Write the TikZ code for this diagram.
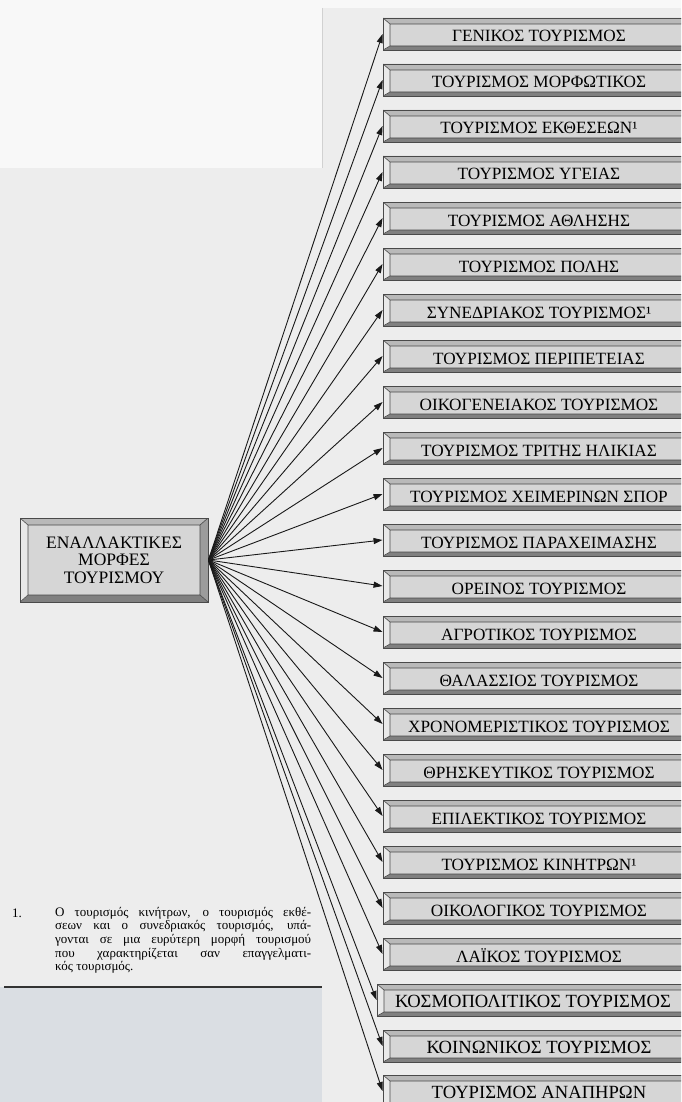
\documentclass[tikz,border=0pt]{standalone}
\usepackage{fontspec}
\setmainfont{Liberation Serif}
\usetikzlibrary{calc,arrows.meta}
\definecolor{pagebg}{HTML}{EDEDED}
\definecolor{panelbg}{HTML}{F8F8F8}
\definecolor{photobg}{HTML}{DADEE3}
\definecolor{boxface}{HTML}{D6D6D6}
\definecolor{boxline}{HTML}{4A4A4A}
\definecolor{bvTc}{HTML}{B9B9B9}
\definecolor{bvRc}{HTML}{9C9C9C}
\definecolor{bvBc}{HTML}{808080}
\definecolor{bvLc}{HTML}{E9E9E9}
\tikzset{
  bevelbox/.style n args={4}{draw=boxline, line width=0.9pt, fill=boxface,
    path picture={
      \coordinate (pA) at (path picture bounding box.north west);
      \coordinate (pC) at (path picture bounding box.south east);
      \coordinate (pB) at (pC |- pA);
      \coordinate (pD) at (pA |- pC);
      \coordinate (qA) at ($(pA)+(#1,#2)$);
      \coordinate (qB) at ($(pB)+(-#3,#2)$);
      \coordinate (qC) at ($(pC)+(-#3,-#4)$);
      \coordinate (qD) at ($(pD)+(#1,-#4)$);
      \fill[bvTc] (pA)--(pB)--(qB)--(qA)--cycle;
      \fill[bvRc] (pB)--(pC)--(qC)--(qB)--cycle;
      \fill[bvBc] (pC)--(pD)--(qD)--(qC)--cycle;
      \fill[bvLc] (pD)--(pA)--(qA)--(qD)--cycle;
      \draw[boxline, line width=0.6pt] (qA) rectangle (qC)
        (pA)--(qA) (pB)--(qB) (pC)--(qC) (pD)--(qD);
    }},
  rbox/.style={bevelbox={7}{6}{6}{4}, minimum width=312pt, minimum height=32pt,
    inner sep=0pt, text height=16pt, text depth=0pt,
    font=\fontsize{17.2}{17.2}\selectfont},
  rboxbig/.style={rbox, font=\fontsize{18.6}{18.6}\selectfont, text height=15pt},
  lbox/.style={bevelbox={8}{7}{8}{7}, minimum width=188pt, minimum height=84pt,
    inner sep=0pt, align=center, font=\fontsize{17.5}{17.5}\selectfont},
  arr/.style={draw=black!90, line width=0.9pt, -{Triangle[length=9pt,width=6pt]}},
  fntext/.style={inner sep=0pt, text=black, font=\rmfamily\fontsize{13}{13.6}\selectfont}
}
\begin{document}
\begin{tikzpicture}[x=1pt,y=-1pt]
\useasboundingbox (0,0) rectangle (681,1102);
\clip (0,0) rectangle (681,1102);
% page background
\fill[pagebg] (0,0) rectangle (681,1102);
\fill[panelbg] (0,0) rectangle (322,168);
\fill[panelbg] (0,0) rectangle (681,8);
\draw[black!18, line width=0.8pt] (322,8) -- (322,168);
\fill[photobg] (0,987) rectangle (322,1102);
\draw[black!80, line width=1.4pt] (4,987) -- (322,987);

% central box
\node[lbox] (L) at (114,560) {ΕΝΑΛΛΑΚΤΙΚΕΣ\\ΜΟΡΦΕΣ\\ΤΟΥΡΙΣΜΟΥ};

% right boxes
\node[rbox] (b1)  at (539,34)   {ΓΕΝΙΚΟΣ ΤΟΥΡΙΣΜΟΣ};
\node[rbox] (b2)  at (539,80)   {ΤΟΥΡΙΣΜΟΣ ΜΟΡΦΩΤΙΚΟΣ};
\node[rbox] (b3)  at (539,126)  {ΤΟΥΡΙΣΜΟΣ ΕΚΘΕΣΕΩΝ¹};
\node[rbox] (b4)  at (539,172)  {ΤΟΥΡΙΣΜΟΣ ΥΓΕΙΑΣ};
\node[rbox] (b5)  at (539,218)  {ΤΟΥΡΙΣΜΟΣ ΑΘΛΗΣΗΣ};
\node[rbox] (b6)  at (539,264)  {ΤΟΥΡΙΣΜΟΣ ΠΟΛΗΣ};
\node[rbox] (b7)  at (539,310)  {ΣΥΝΕΔΡΙΑΚΟΣ ΤΟΥΡΙΣΜΟΣ¹};
\node[rbox] (b8)  at (539,356)  {ΤΟΥΡΙΣΜΟΣ ΠΕΡΙΠΕΤΕΙΑΣ};
\node[rbox] (b9)  at (539,402)  {ΟΙΚΟΓΕΝΕΙΑΚΟΣ ΤΟΥΡΙΣΜΟΣ};
\node[rbox] (b10) at (539,448)  {ΤΟΥΡΙΣΜΟΣ ΤΡΙΤΗΣ ΗΛΙΚΙΑΣ};
\node[rbox] (b11) at (539,494)  {ΤΟΥΡΙΣΜΟΣ ΧΕΙΜΕΡΙΝΩΝ ΣΠΟΡ};
\node[rbox] (b12) at (539,540)  {ΤΟΥΡΙΣΜΟΣ ΠΑΡΑΧΕΙΜΑΣΗΣ};
\node[rbox] (b13) at (539,586)  {ΟΡΕΙΝΟΣ ΤΟΥΡΙΣΜΟΣ};
\node[rbox] (b14) at (539,632)  {ΑΓΡΟΤΙΚΟΣ ΤΟΥΡΙΣΜΟΣ};
\node[rbox] (b15) at (539,678)  {ΘΑΛΑΣΣΙΟΣ ΤΟΥΡΙΣΜΟΣ};
\node[rbox] (b16) at (539,724)  {ΧΡΟΝΟΜΕΡΙΣΤΙΚΟΣ ΤΟΥΡΙΣΜΟΣ};
\node[rbox] (b17) at (539,770)  {ΘΡΗΣΚΕΥΤΙΚΟΣ ΤΟΥΡΙΣΜΟΣ};
\node[rbox] (b18) at (539,816)  {ΕΠΙΛΕΚΤΙΚΟΣ ΤΟΥΡΙΣΜΟΣ};
\node[rbox] (b19) at (539,862)  {ΤΟΥΡΙΣΜΟΣ ΚΙΝΗΤΡΩΝ¹};
\node[rbox] (b20) at (539,908)  {ΟΙΚΟΛΟΓΙΚΟΣ ΤΟΥΡΙΣΜΟΣ};
\node[rbox] (b21) at (539,954)  {ΛΑΪΚΟΣ ΤΟΥΡΙΣΜΟΣ};
\node[rboxbig] (b22) at (533,1000) {ΚΟΣΜΟΠΟΛΙΤΙΚΟΣ ΤΟΥΡΙΣΜΟΣ};
\node[rboxbig] (b23) at (539,1046) {ΚΟΙΝΩΝΙΚΟΣ ΤΟΥΡΙΣΜΟΣ};
\node[rboxbig] (b24) at (539,1091) {ΤΟΥΡΙΣΜΟΣ ΑΝΑΠΗΡΩΝ};

% arrows
\foreach \i in {1,...,24}{
  \draw[arr] (L.east) -- (b\i.west);
}

% footnote
\node[fntext, anchor=base west] (fnum) at (12,917) {1.};
\node[fntext, anchor=north west] (fn) at (55,907) {\vbox{%
\hbox to 256pt{Ο τουρισμός κινήτρων, ο τουρισμός εκθέ-}%
\hbox to 256pt{σεων και ο συνεδριακός τουρισμός, υπά-}%
\hbox to 256pt{γονται σε μια ευρύτερη μορφή τουρισμού}%
\hbox to 256pt{που χαρακτηρίζεται σαν επαγγελματι-}%
\hbox{κός τουρισμός.}}};
\end{tikzpicture}
\end{document}
